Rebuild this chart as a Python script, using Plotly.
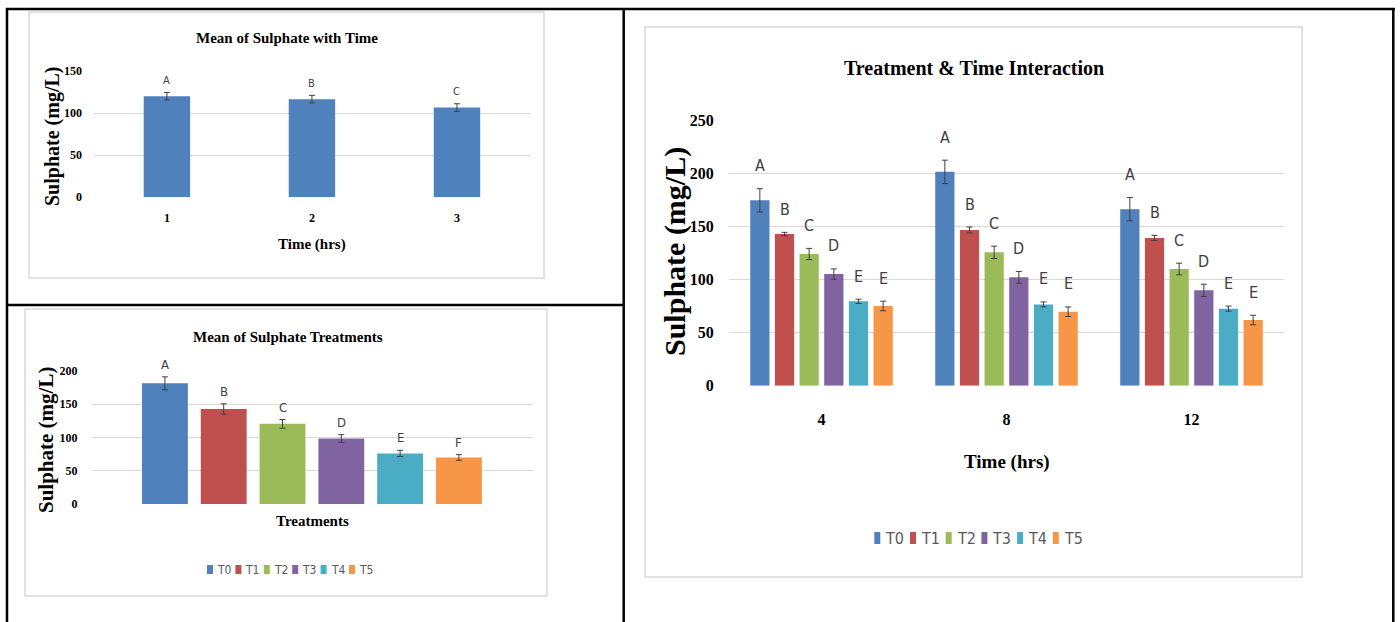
import plotly.graph_objects as go

W, H = 1400, 622

# ---------------- data ----------------
# Chart 1: Mean of Sulphate with Time
time_cats = ["1", "2", "3"]
time_means = [120.0, 116.5, 106.5]
time_err = [4.5, 4.5, 4.5]
time_letters = ["A", "B", "C"]

# Chart 2: Mean of Sulphate Treatments
treatments = ["T0", "T1", "T2", "T3", "T4", "T5"]
treat_means = [181.5, 143.0, 120.5, 98.5, 76.0, 70.0]
treat_err = [9.75, 7.75, 6.5, 5.75, 4.75, 4.25]
treat_letters = ["A", "B", "C", "D", "E", "F"]

# Chart 3: Treatment & Time Interaction
hours = ["4", "8", "12"]
inter_T0 = [174.4, 201.2, 166.1]
inter_T1 = [142.7, 146.5, 139.0]
inter_T2 = [123.9, 125.5, 109.8]
inter_T3 = [105.0, 102.0, 89.7]
inter_T4 = [79.4, 76.5, 72.5]
inter_T5 = [75.0, 69.6, 61.8]
err_T0 = [11.0, 11.0, 11.0]
err_T1 = [1.6, 2.8, 2.4]
err_T2 = [5.3, 5.8, 5.5]
err_T3 = [4.9, 5.5, 5.8]
err_T4 = [2.0, 2.3, 2.4]
err_T5 = [4.5, 4.5, 4.5]
let_T0 = ["A", "A", "A"]
let_T1 = ["B", "B", "B"]
let_T2 = ["C", "C", "C"]
let_T3 = ["D", "D", "D"]
let_T4 = ["E", "E", "E"]
let_T5 = ["E", "E", "E"]

inter_vals = [inter_T0, inter_T1, inter_T2, inter_T3, inter_T4, inter_T5]
inter_errs = [err_T0, err_T1, err_T2, err_T3, err_T4, err_T5]
inter_lets = [let_T0, let_T1, let_T2, let_T3, let_T4, let_T5]

colors = ["#4F81BD", "#C0504D", "#9BBB59", "#8064A2", "#4BACC6", "#F79646"]

SERIF = "Liberation Serif"
NARROW = "Liberation Sans Narrow, DejaVu Sans Condensed, Roboto Condensed, Liberation Sans, sans-serif"
ERRC = "#404040"
GRID = "#D9D9D9"
LETC = "#404040"
LEGC = "#595959"


def px(p):
    return p / W


def py(p):
    return 1 - p / H


fig = go.Figure()
annotations = []
shapes = []

# ---------------- chart 1 ----------------
x1 = list(range(len(time_cats)))
fig.add_trace(go.Bar(
    x=x1, y=time_means, width=0.32, marker=dict(color=colors[0], line=dict(width=0)),
    error_y=dict(type="data", array=time_err, color=ERRC, thickness=1, width=3),
    xaxis="x", yaxis="y", showlegend=False, hoverinfo="y"))
for xi, v, e, t in zip(x1, time_means, time_err, time_letters):
    annotations.append(dict(x=xi, y=v + e, xref="x", yref="y", text=t, showarrow=False,
                            yanchor="middle", yshift=12,
                            font=dict(family=NARROW, size=11, color=LETC)))

# ---------------- chart 2 ----------------
for i, name in enumerate(treatments):
    fig.add_trace(go.Bar(
        x=[i], y=[treat_means[i]], width=0.78, name=name,
        marker=dict(color=colors[i], line=dict(width=0)),
        error_y=dict(type="data", array=[treat_err[i]], color=ERRC, thickness=1, width=3),
        xaxis="x2", yaxis="y2", showlegend=False, hoverinfo="name+y"))
    annotations.append(dict(x=i, y=treat_means[i] + treat_err[i], xref="x2", yref="y2",
                            text=treat_letters[i], showarrow=False, yanchor="middle",
                            yshift=12.5, font=dict(family=NARROW, size=13, color=LETC)))

# ---------------- chart 3 ----------------
slot = 0.1333
for i, name in enumerate(treatments):
    xs = [g + (i - 2.5) * slot for g in range(len(hours))]
    fig.add_trace(go.Bar(
        x=xs, y=inter_vals[i], width=0.104, name=name,
        marker=dict(color=colors[i], line=dict(width=0)),
        error_y=dict(type="data", array=inter_errs[i], color=ERRC, thickness=1, width=3),
        xaxis="x3", yaxis="y3", showlegend=False, hoverinfo="name+y"))
    for xx, v, e, t in zip(xs, inter_vals[i], inter_errs[i], inter_lets[i]):
        annotations.append(dict(x=xx, y=v + e, xref="x3", yref="y3", text=t, showarrow=False,
                                yanchor="middle", yshift=23,
                                font=dict(family=NARROW, size=16, color=LETC)))


# ---------------- text annotations ----------------
def ptext(text, x, y, size, angle=0, family=SERIF, color="black", bold=True, xanchor="center"):
    annotations.append(dict(
        x=px(x), y=py(y), xref="paper", yref="paper", text=text, showarrow=False,
        textangle=angle, xanchor=xanchor, yanchor="middle",
        font=dict(family=family, size=size, color=color, weight="bold" if bold else "normal")))


ptext("Mean of Sulphate with Time", 287, 38, 15)
ptext("Time (hrs)", 312, 245, 15)
ptext("Sulphate (mg/L)", 52, 137, 20, angle=-90)

ptext("Mean of Sulphate Treatments", 288, 337, 15)
ptext("Treatments", 312, 521, 15)
ptext("Sulphate (mg/L)", 46, 440, 21, angle=-90)

ptext("Treatment &amp; Time Interaction", 974, 68, 20)
ptext("Time (hrs)", 1007, 462, 19)
ptext("Sulphate (mg/L)", 675, 252, 30, angle=-90)

# manual legends
for i, name in enumerate(treatments):
    x0 = 207 + i * 28.4
    shapes.append(dict(type="rect", xref="paper", yref="paper", x0=px(x0), x1=px(x0 + 6),
                       y0=py(574), y1=py(565), fillcolor=colors[i], line=dict(width=0)))
    ptext(name, x0 + 8, 569.5, 12, family=NARROW, color=LEGC, bold=False, xanchor="left")
for i, name in enumerate(treatments):
    x0 = 874.3 + i * 35.7
    shapes.append(dict(type="rect", xref="paper", yref="paper", x0=px(x0), x1=px(x0 + 6),
                       y0=py(544), y1=py(532), fillcolor=colors[i], line=dict(width=0)))
    ptext(name, x0 + 9, 538, 16, family=NARROW, color=LEGC, bold=False, xanchor="left")

# chart frames (light grey)
for (a, b, c, d) in [(29, 12, 544, 278), (25, 309, 547, 596), (645, 27, 1302, 577)]:
    shapes.append(dict(type="rect", xref="paper", yref="paper", x0=px(a), x1=px(c),
                       y0=py(d), y1=py(b), line=dict(color=GRID, width=1.5),
                       fillcolor="rgba(0,0,0,0)", layer="below"))

# table borders (black)
blk = dict(color="black", width=2.5)
for (a, b, c, d) in [(6, 9, 1395, 9), (7, 8, 7, 622), (623.7, 8, 623.7, 622),
                     (1393.3, 8, 1393.3, 622), (7, 305, 623.7, 305)]:
    shapes.append(dict(type="line", xref="paper", yref="paper", x0=px(a), x1=px(c),
                       y0=py(b), y1=py(d), line=blk))

tick_small = dict(family=SERIF, size=12, color="black", weight="bold")
tick_big = dict(family=SERIF, size=16, color="black", weight="bold")
tr = "rgba(0,0,0,0)"

fig.update_layout(
    width=W, height=H, margin=dict(l=0, r=0, t=0, b=0, pad=0, autoexpand=False),
    autosize=False,
    paper_bgcolor="white", plot_bgcolor="white", barmode="overlay",
    showlegend=False, annotations=annotations, shapes=shapes,
    xaxis=dict(domain=[px(94.4), px(529.5)], range=[-0.5, 2.5], tickvals=x1, ticktext=time_cats,
               tickfont=tick_small, ticks="outside", ticklen=10, tickcolor=tr, automargin=False,
               showgrid=False, zeroline=False, showline=False, anchor="y", fixedrange=True),
    yaxis=dict(domain=[py(197), py(71)], range=[0, 150], tickvals=[0, 50, 100, 150],
               tickfont=tick_small, ticks="outside", ticklen=9, tickcolor=tr, automargin=False,
               showgrid=True, gridcolor=GRID, gridwidth=1, zeroline=False, anchor="x",
               fixedrange=True),
    xaxis2=dict(domain=[px(92), px(533)], range=[-1.24, 6.26], showticklabels=False,
                automargin=False,
                showgrid=False, zeroline=False, showline=False, anchor="y2", fixedrange=True),
    yaxis2=dict(domain=[py(504), py(371)], range=[0, 200], tickvals=[0, 50, 100, 150, 200],
                tickfont=tick_small, ticks="outside", ticklen=11, tickcolor=tr, automargin=False,
                showgrid=True, gridcolor=GRID, gridwidth=1, zeroline=False, anchor="x2",
                fixedrange=True),
    xaxis3=dict(domain=[px(729), px(1284)], range=[-0.5, 2.5], tickvals=[0, 1, 2],
                ticktext=hours, tickfont=tick_big, ticks="outside", ticklen=19, tickcolor=tr,
                automargin=False,
                showgrid=False, zeroline=False, showline=False, anchor="y3", fixedrange=True),
    yaxis3=dict(domain=[py(385.7), py(120)], range=[0, 250], tickvals=[0, 50, 100, 150, 200, 250],
                tickfont=tick_big, ticks="outside", ticklen=11, tickcolor=tr, automargin=False,
                showgrid=True, gridcolor=GRID, gridwidth=1, zeroline=False, anchor="x3",
                fixedrange=True),
)

post = ("document.documentElement.style.margin='0';document.body.style.margin='0';"
        "document.body.style.padding='0';document.documentElement.style.overflow='hidden';"
        "var d=document.getElementById('{plot_id}');"
        "d.style.position='fixed';d.style.left='0px';d.style.top='0px';")
fig.write_html("out.html", post_script=post, config={"displayModeBar": False})
